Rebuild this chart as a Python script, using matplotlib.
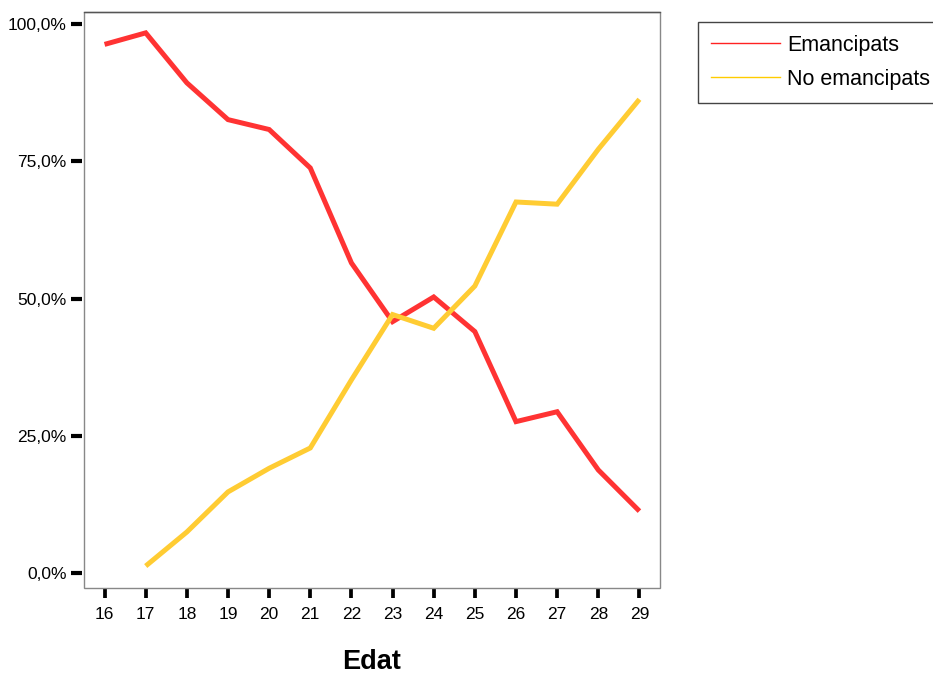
import matplotlib
matplotlib.use("Agg")
import matplotlib.pyplot as plt
import numpy as np
from matplotlib.patches import Rectangle

ages = [16, 17, 18, 19, 20, 21, 22, 23, 24, 25, 26, 27, 28, 29]
emancipats = [96.3, 98.4, 89.3, 82.6, 80.8, 73.8, 56.5, 45.8, 50.3, 44.0, 27.6, 29.4, 18.8, 11.3]
no_emancipats = [np.nan, 1.3, 7.5, 14.8, 19.1, 22.8, 35.2, 47.1, 44.6, 52.3, 67.6, 67.2, 77.2, 86.3]
yticks = [0, 25, 50, 75, 100]
ytick_labels = ["0,0%", "25,0%", "50,0%", "75,0%", "100,0%"]
series_labels = ["Emancipats", "No emancipats"]
xlabel = "Edat"

plt.rcParams['font.family'] = ['Liberation Sans', 'DejaVu Sans']

fig = plt.figure(figsize=(9.33, 6.75), dpi=100)
ax = fig.add_axes([84/933, 1-588/675, (660-84)/933, (588-12)/675])

red = "#FF3333"
yellow = "#FFCC33"
ax.plot(ages, emancipats, color=red, lw=3.6, solid_joinstyle='miter', solid_capstyle='butt')
ax.plot(ages, no_emancipats, color=yellow, lw=3.6, solid_joinstyle='miter', solid_capstyle='butt')

ax.set_xlim(15.5, 29.5)
ax.set_ylim(-2.7, 102.2)
ax.set_xticks(ages)
ax.set_xticklabels([str(a) for a in ages])
ax.set_yticks(yticks)
ax.set_yticklabels(ytick_labels)

ax.spines['left'].set_position(('outward', 1.5))
ax.spines['bottom'].set_position(('outward', 1))
for s in ax.spines.values():
    s.set_visible(False)
ax.add_patch(Rectangle((0, 0), 1, 1, transform=ax.transAxes, fill=False,
                       edgecolor="#888888", lw=1, clip_on=False, zorder=3))
ax.plot([0, 1], [1, 1], transform=ax.transAxes, color="#555555", lw=1, clip_on=False, zorder=4)

ax.tick_params(axis='y', length=8, width=3, color='black', pad=3, labelsize=12.5)
ax.tick_params(axis='x', length=6.5, width=2.7, color='black', pad=6, labelsize=12.5)

ax.set_xlabel(xlabel, fontsize=19.5, fontweight='bold', labelpad=19.5)

h1, = ax.plot([], [], color="#FF2222", lw=1)
h2, = ax.plot([], [], color="#FFCC00", lw=1)
leg = fig.legend([h1, h2], series_labels, loc='upper left',
                 bbox_to_anchor=(698/933, 1-22/675), borderaxespad=0,
                 fontsize=15.5, handlelength=3.2, handletextpad=0.35,
                 labelspacing=0.6, borderpad=0.6, fancybox=False,
                 framealpha=1, edgecolor="#444444")
leg.get_frame().set_linewidth(1)

fig.savefig("out.png", dpi=100)
